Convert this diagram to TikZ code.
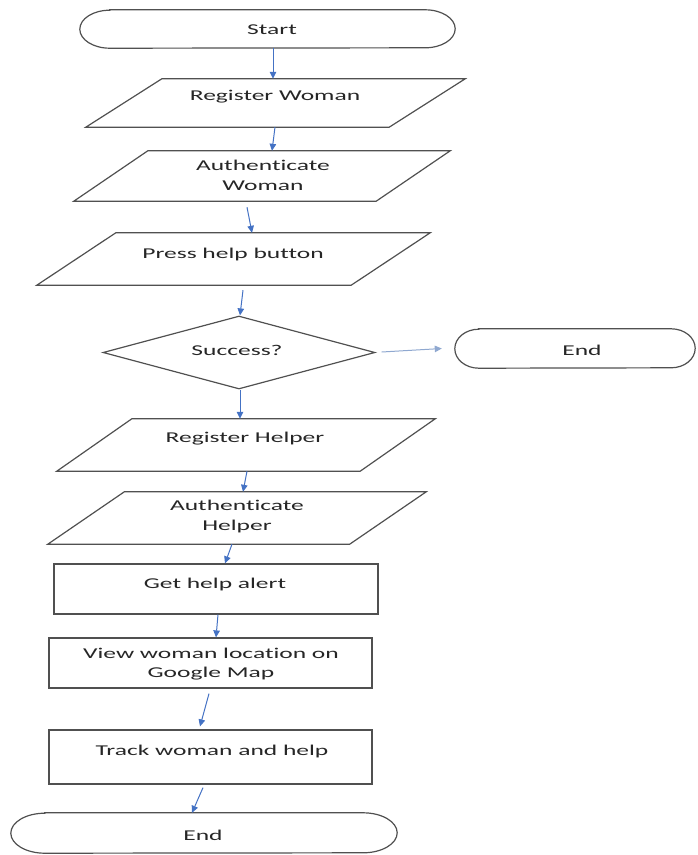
\documentclass[tikz,border=0pt]{standalone}
\usepackage{fontspec}
\setmainfont[FakeStretch=1.7, Ligatures=NoCommon]{Carlito}
\usetikzlibrary{shapes.geometric,arrows.meta,calc}
\definecolor{edge}{HTML}{505050}
\definecolor{arrowblue}{HTML}{4472C4}
\definecolor{arrowlight}{HTML}{8FA8D0}
\definecolor{txt}{HTML}{262626}
\tikzset{
  shp/.style={draw=edge, line width=1.2pt, inner sep=0pt, text=txt},
  parabox/.style={rectangle, inner sep=0pt},
  outline/.style={draw=edge, line width=1.2pt, line join=miter},
  dia/.style={shp, diamond},
  boxx/.style={shp, rectangle},
  lbl/.style={inner sep=0pt, text=txt, align=center, font=\fontsize{15}{19.5}\selectfont},
  arr/.style={draw=arrowblue, line width=1pt, -{Triangle[length=7pt,width=6.5pt]}},
  arrl/.style={draw=arrowlight, line width=1pt, -{Triangle[length=7pt,width=6.5pt]}},
}
\newcommand\drawpara[2]{\draw[outline] (#1.south west) -- ($(#1.north west)+(#2,0)$) -- (#1.north east) -- ($(#1.south east)+(-#2,0)$) -- cycle;}
\newcommand\drawterm[3]{\draw[outline] ($(#1.north west)+(#2,0)$) -- ($(#1.north east)+(-#2,0)$) arc[start angle=90,end angle=-90,x radius=#2pt,y radius=#3pt] -- ($(#1.south west)+(#2,0)$) arc[start angle=270,end angle=90,x radius=#2pt,y radius=#3pt] -- cycle;}
\newcommand\nlg{\kern0pt\relax}
\begin{document}
\begin{tikzpicture}[x=1pt,y=-1pt]
\useasboundingbox (0,0) rectangle (697,855);
% shapes
\node[parabox, minimum width=375pt, minimum height=38pt] (st) at (267.5,29) {};
\drawterm{st}{30}{19}
\node[parabox, minimum width=379pt, minimum height=48pt] (rw) at (275.5,103) {};
\drawpara{rw}{76}
\node[parabox, minimum width=376pt, minimum height=50pt] (aw) at (262,176) {};
\drawpara{aw}{74}
\node[parabox, minimum width=393pt, minimum height=52pt] (ph) at (233.5,259) {};
\drawpara{ph}{79}
\node[dia, minimum width=272pt, minimum height=73pt] (dc) at (239,352.5) {};
\node[parabox, minimum width=240pt, minimum height=39pt] (er) at (575,348.5) {};
\drawterm{er}{24}{19.5}
\node[parabox, minimum width=378pt, minimum height=52pt] (rh) at (246,445) {};
\drawpara{rh}{75}
\node[parabox, minimum width=378pt, minimum height=52pt] (ah) at (237,518) {};
\drawpara{ah}{76.5}
\node[boxx, minimum width=324pt, minimum height=50pt] (gh) at (216,589) {};
\node[boxx, minimum width=323pt, minimum height=50pt] (vw) at (210.5,663) {};
\node[boxx, minimum width=323pt, minimum height=54pt] (tr) at (210.5,757) {};
\node[parabox, minimum width=386pt, minimum height=40pt] (ed) at (204,833) {};
\drawterm{ed}{34}{20}
% labels
\node[lbl] (st-t) at (272,30) {Start};
\node[lbl] (rw-t) at (275,97) {Register Woman};
\node[lbl] (aw-t) at (263,175.5) {Authent\nlg icate\\Woman};
\node[lbl] (ph-t) at (233,254) {Press help button};
\node[lbl] (dc-t) at (237,350) {Success?};
\node[lbl] (er-t) at (582,350) {End};
\node[lbl] (rh-t) at (245,439) {Register Helper};
\node[lbl] (ah-t) at (237,516.5) {Authent\nlg icate\\Helper};
\node[lbl] (gh-t) at (215,584) {Get help alert};
\node[lbl] (vw-t) at (211,664) {View woman locat\nlg ion on\\Google Map};
\node[lbl] (tr-t) at (212,751) {Track woman and help};
\node[lbl] (ed-t) at (203,835) {End};
% connectors
\draw[arr] ($(st.south)+(5.5,0)$) -- ($(rw.north)+(-2.5,0)$);
\draw[arr] ($(rw.south)+(-0.5,0)$) -- ($(aw.north)+(10,0)$);
\draw[arr] ($(aw.south)+(-15,6)$) -- ($(ph.north)+(18.5,0)$);
\draw[arr] ($(ph.south)+(9.5,5)$) -- ($(dc.north)+(1,0)$);
\draw[arr] ($(dc.south)+(1,0)$) -- ($(rh.north)+(-6,0)$);
\draw[arr] ($(rh.south)+(1,0)$) -- ($(ah.north)+(6,0)$);
\draw[arr] ($(ah.south)+(-5,0)$) -- ($(gh.north)+(9,0)$);
\draw[arr] ($(gh.south)+(2,0)$) -- ($(vw.north)+(5.5,0)$);
\draw[arr] ($(vw.south)+(-1.5,5)$) -- ($(tr.north)+(-10.5,-3)$);
\draw[arr] ($(tr.south)+(-7.5,3)$) -- ($(ed.north)+(-12,0)$);
\draw[arrl] ($(dc.east)+(6,-0.5)$) -- ($(er.west)+(-13,0)$);
\end{tikzpicture}
\end{document}
